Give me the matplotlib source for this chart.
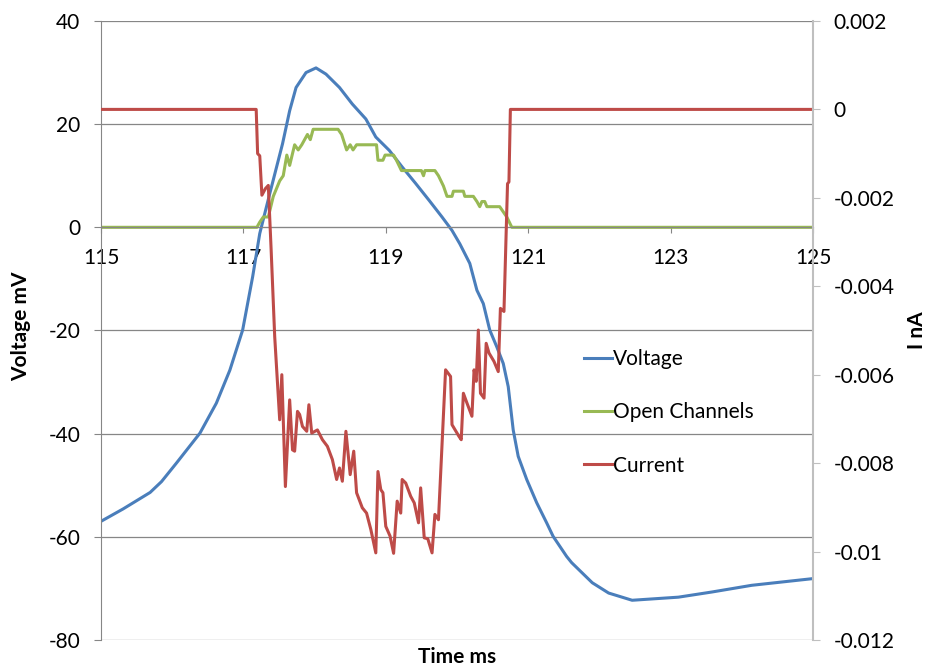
import matplotlib
matplotlib.use("Agg")
import matplotlib.pyplot as plt
from matplotlib.lines import Line2D
from matplotlib.ticker import FuncFormatter

plt.rcParams['font.family'] = ['Lato', 'DejaVu Sans']
plt.rcParams['axes.unicode_minus'] = False

# membrane voltage (mV)
v_time = [115.00, 115.31, 115.69, 115.85, 116.06, 116.39, 116.62, 116.81, 116.99,
          117.13, 117.23, 117.37, 117.55, 117.65, 117.74, 117.88, 118.02, 118.16,
          118.35, 118.53, 118.72, 118.86, 119.05, 119.23, 119.42, 119.61, 119.79,
          119.93, 120.04, 120.18, 120.28, 120.37, 120.46, 120.56, 120.65, 120.72,
          120.79, 120.86, 120.98, 121.12, 121.26, 121.35, 121.54, 121.61, 121.90,
          122.13, 122.46, 123.11, 123.58, 124.14, 125.00]
voltage = [-57.0, -54.6, -51.4, -49.3, -45.7, -39.9, -34.1, -27.7, -19.9,
           -9.6, -1.2, 6.5, 16.2, 22.6, 27.1, 30.0, 30.9, 29.7,
           27.1, 23.9, 21.0, 17.5, 14.9, 11.7, 8.5, 5.2, 2.0,
           -0.6, -3.2, -7.0, -12.2, -14.8, -19.9, -23.2, -26.4, -30.9,
           -39.3, -44.4, -48.9, -53.4, -57.3, -59.9, -63.8, -65.0, -68.9,
           -70.9, -72.3, -71.7, -70.7, -69.4, -68.1]

# number of open channels (plotted on the mV axis)
ch_time = [115.00, 117.19, 117.23, 117.28, 117.35, 117.42, 117.51, 117.56, 117.61,
           117.65, 117.72, 117.77, 117.82, 117.90, 117.94, 117.98, 118.33, 118.38,
           118.45, 118.50, 118.54, 118.59, 118.87, 118.89, 118.96, 118.99, 119.11,
           119.15, 119.22, 119.50, 119.53, 119.55, 119.69, 119.74, 119.81, 119.86,
           119.93, 119.95, 120.09, 120.11, 120.23, 120.28, 120.32, 120.35, 120.39,
           120.42, 120.60, 120.65, 120.70, 120.77, 125.00]
open_channels = [0, 0, 1, 2, 2, 6, 9, 10, 14,
                 12, 16, 15, 16, 18, 17, 19, 19, 18,
                 15, 16, 15, 16, 16, 13, 13, 14, 14,
                 13, 11, 11, 10, 11, 11, 10, 8, 6,
                 6, 7, 7, 6, 6, 5, 4, 5, 5,
                 4, 4, 3, 2, 0, 0]

# channel current (nA)
i_time = [115.00, 117.18, 117.20, 117.23, 117.26, 117.31, 117.35, 117.39, 117.44,
          117.51, 117.54, 117.59, 117.65, 117.69, 117.72, 117.76, 117.79, 117.83,
          117.89, 117.92, 117.96, 118.04, 118.11, 118.18, 118.25, 118.31, 118.35,
          118.39, 118.44, 118.50, 118.55, 118.59, 118.67, 118.73, 118.79, 118.86,
          118.89, 118.93, 118.96, 119.00, 119.06, 119.11, 119.16, 119.21, 119.23,
          119.28, 119.35, 119.40, 119.46, 119.49, 119.54, 119.59, 119.65, 119.69,
          119.74, 119.84, 119.91, 119.93, 120.03, 120.06, 120.09, 120.14, 120.21,
          120.24, 120.27, 120.30, 120.33, 120.38, 120.41, 120.45, 120.52, 120.58,
          120.61, 120.66, 120.71, 120.73, 120.75, 125.00]
current = [0, 0, -0.00100, -0.00105, -0.00194, -0.00179, -0.00172, -0.00318, -0.00514,
           -0.00702, -0.00600, -0.00853, -0.00657, -0.00770, -0.00773, -0.00683, -0.00690, -0.00717,
           -0.00728, -0.00668, -0.00732, -0.00725, -0.00747, -0.00762, -0.00792, -0.00837, -0.00811,
           -0.00841, -0.00728, -0.00826, -0.00773, -0.00867, -0.00901, -0.00913, -0.00950, -0.01003,
           -0.00819, -0.00860, -0.00867, -0.00943, -0.00965, -0.01004, -0.00886, -0.00913, -0.00837,
           -0.00845, -0.00875, -0.00890, -0.00935, -0.00856, -0.00969, -0.00971, -0.01003, -0.00916,
           -0.00928, -0.00589, -0.00604, -0.00713, -0.00740, -0.00747, -0.00642, -0.00664, -0.00694,
           -0.00589, -0.00615, -0.00499, -0.00642, -0.00653, -0.00529, -0.00551, -0.00570, -0.00593,
           -0.00450, -0.00457, -0.00168, -0.00164, 0, 0]

x_ticks = [115, 117, 119, 121, 123, 125]
v_ticks = [-80, -60, -40, -20, 0, 20, 40]
i_ticks = [-0.012, -0.010, -0.008, -0.006, -0.004, -0.002, 0, 0.002]

BLUE = '#4a7ebb'
GREEN = '#98b954'
RED = '#be4b48'
GRID = '#868686'
FS = 15

fig = plt.figure(figsize=(9.29, 6.70), dpi=100)
ax = fig.add_axes([0.1087, 0.0448, 0.7664, 0.9239])
ax2 = ax.twinx()

ax.plot(v_time, voltage, color=BLUE, lw=2.2, solid_joinstyle='round')
ax.plot(ch_time, open_channels, color=GREEN, lw=2.2, solid_joinstyle='round')
ax2.plot(i_time, current, color=RED, lw=2.2, solid_joinstyle='round')

ax.set_xlim(115, 125)
ax.set_ylim(-80, 40)
ax2.set_ylim(-0.012, 0.002)

ax.set_xticks(x_ticks)
ax.set_yticks(v_ticks)
ax2.set_yticks(i_ticks)
ax2.yaxis.set_major_formatter(FuncFormatter(lambda v, p: '0' if abs(v) < 1e-9 else f'{v:g}'))

ax.grid(axis='y', color=GRID, lw=0.9)
ax.grid(axis='x', visible=False)
ax.set_axisbelow(True)

# x axis crosses at 0 mV
ax.spines['bottom'].set_position(('data', 0))
ax.spines['bottom'].set_color(GRID)
ax.spines['left'].set_color(GRID)
ax.spines['top'].set_visible(False)
ax.spines['right'].set_visible(False)
for s in ['top', 'bottom', 'left']:
    ax2.spines[s].set_visible(False)
ax2.spines['right'].set_color('#bfbfbf')
ax2.spines['right'].set_linewidth(1.5)

ax.tick_params(axis='x', direction='out', length=4, color=GRID, pad=11, labelsize=FS)
ax.tick_params(axis='y', direction='out', length=5, color=GRID, pad=10, labelsize=FS)
ax2.tick_params(axis='y', direction='out', length=5, color='#bfbfbf', pad=10, labelsize=FS)

fig.text(21 / 929, 1 - 326 / 670, 'Voltage mV', rotation=90, ha='center', va='center',
         fontsize=FS, fontweight='bold')
fig.text(917 / 929, 1 - 330 / 670, 'I nA', rotation=90, ha='center', va='center',
         fontsize=FS, fontweight='bold')
fig.text(457 / 929, 1 - 657 / 670, 'Time ms', ha='center', va='center',
         fontsize=FS, fontweight='bold')

handles = [Line2D([], [], color=BLUE, lw=2.2),
           Line2D([], [], color=GREEN, lw=2.2),
           Line2D([], [], color=RED, lw=2.2)]
ax2.legend(handles, ['Voltage', 'Open Channels', 'Current'], loc='upper left',
           bbox_to_anchor=(584 / 929, 1 - 349 / 670), bbox_transform=fig.transFigure,
           frameon=False, fontsize=FS, borderpad=0, borderaxespad=0,
           handlelength=1.35, handletextpad=0.05, labelspacing=1.6)

fig.savefig('out.png', dpi=100)
